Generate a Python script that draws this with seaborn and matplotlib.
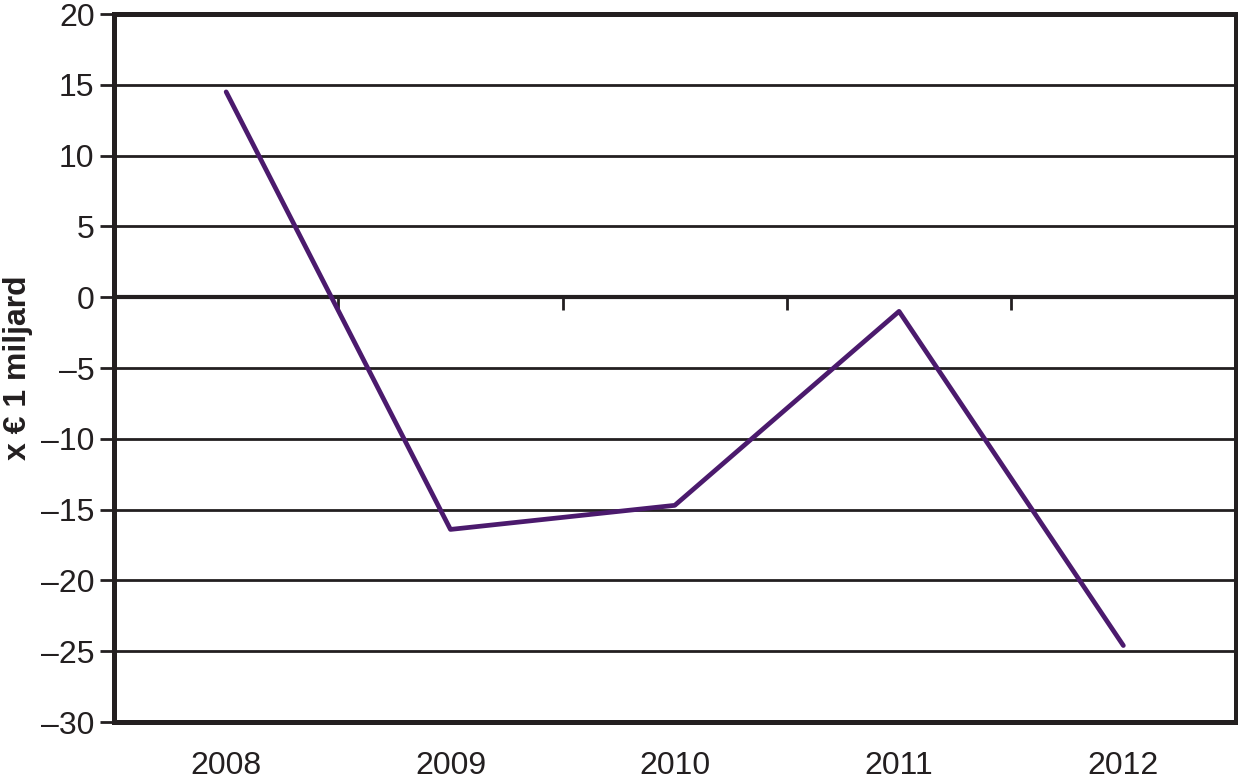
import matplotlib
matplotlib.use("Agg")
import matplotlib.pyplot as plt
import seaborn as sns
import pandas as pd
import numpy as np

years = ["2008", "2009", "2010", "2011", "2012"]
values = [14.5, -16.4, -14.7, -1.0, -24.6]
yticks = [-30, -25, -20, -15, -10, -5, 0, 5, 10, 15, 20]
ylabel = "x € 1 miljard"

sns.set_theme(style="white")
plt.rcParams['font.family'] = ['Liberation Sans', 'DejaVu Sans']

dark = "#231f20"
purple = "#4b1a6d"

df = pd.DataFrame({"year": years, "value": values})

fig = plt.figure(figsize=(12.38, 7.82), dpi=100)
ax = fig.add_axes([114/1238, 1 - 722/782, (1235.5-114)/1238, (722-14)/782])

for y in yticks:
    if y == 0:
        ax.axhline(y, color=dark, lw=3.0, zorder=1)
    else:
        ax.axhline(y, color=dark, lw=2.0, zorder=1)

# small ticks under the zero line between categories
ax.vlines([0.5, 1.5, 2.5, 3.5], -0.9, 0, color=dark, lw=2.0, zorder=1)

sns.lineplot(data=df, x="year", y="value", ax=ax, color=purple, lw=3.4,
             sort=False, zorder=3)

ax.set_xlim(-0.5, 4.5)
ax.set_ylim(-30, 20)
ax.set_yticks(yticks)
ax.set_yticklabels([str(t).replace("-", "\u2013") for t in yticks])
ax.set_xlabel("")
ax.set_ylabel(ylabel, fontsize=23, fontweight="bold", color=dark, labelpad=6)

for s in ax.spines.values():
    s.set_color(dark)
    s.set_linewidth(3.6)

ax.tick_params(axis="y", which="major", left=True, length=10, width=2.0,
               color=dark, labelsize=23, labelcolor=dark, pad=4)
ax.tick_params(axis="x", which="major", bottom=False, labelsize=23,
               labelcolor=dark, pad=15)

fig.savefig("out.png", dpi=100)
